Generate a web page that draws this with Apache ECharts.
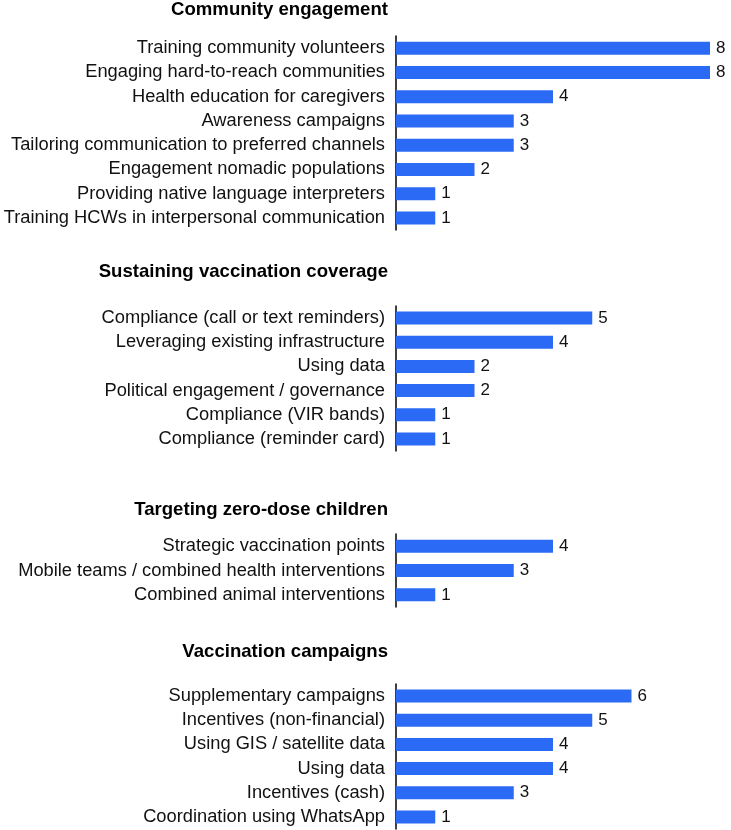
<!DOCTYPE html>
<html>
<head>
<meta charset="utf-8">
<title>Strategies by theme</title>
<script src="https://cdn.jsdelivr.net/npm/echarts@6/dist/echarts.min.js"></script>
<style>
  html, body { margin: 0; padding: 0; background: #fff; }
  #chart { width: 731px; height: 830px; }
</style>
</head>
<body>
<div id="chart"></div>
<script>
// group titles
const groupTitles = [
  'Community engagement',
  'Sustaining vaccination coverage',
  'Targeting zero-dose children',
  'Vaccination campaigns'
]

// categories and counts, one pair per group
const communityLabels = [
  'Training community volunteers',
  'Engaging hard-to-reach communities',
  'Health education for caregivers',
  'Awareness campaigns',
  'Tailoring communication to preferred channels',
  'Engagement nomadic populations',
  'Providing native language interpreters',
  'Training HCWs in interpersonal communication'
]
const communityValues = [8, 8, 4, 3, 3, 2, 1, 1]

const sustainingLabels = [
  'Compliance (call or text reminders)',
  'Leveraging existing infrastructure',
  'Using data',
  'Political engagement / governance',
  'Compliance (VIR bands)',
  'Compliance (reminder card)'
]
const sustainingValues = [5, 4, 2, 2, 1, 1]

const zeroDoseLabels = [
  'Strategic vaccination points',
  'Mobile teams / combined health interventions',
  'Combined animal interventions'
]
const zeroDoseValues = [4, 3, 1]

const campaignLabels = [
  'Supplementary campaigns',
  'Incentives (non-financial)',
  'Using GIS / satellite data',
  'Using data',
  'Incentives (cash)',
  'Coordination using WhatsApp'
]
const campaignValues = [6, 5, 4, 4, 3, 1]

const groups = [
  { labels: communityLabels, values: communityValues },
  { labels: sustainingLabels, values: sustainingValues },
  { labels: zeroDoseLabels, values: zeroDoseValues },
  { labels: campaignLabels, values: campaignValues }
]

// layout of each block (grid top / height, title top)
const gridTops = [36, 306, 534, 684]
const gridHeights = [194, 145, 73, 145]
const titleTops = [0, 262, 500, 642]

const font = '"Liberation Sans", Arial, Helvetica, sans-serif'
const barColor = '#2a6af4'

const chart = echarts.init(document.getElementById('chart'))

const option = {
  backgroundColor: '#ffffff',
  animation: false,
  title: groupTitles.map((t, i) => ({
    text: t,
    left: 388,
    top: titleTops[i],
    textAlign: 'right',
    padding: 0,
    textStyle: {
      fontFamily: font,
      fontSize: 18.6,
      fontWeight: 'bold',
      color: '#000'
    }
  })),
  grid: groups.map((g, i) => ({
    left: 396,
    width: 314,
    top: gridTops[i],
    height: gridHeights[i],
    containLabel: false
  })),
  xAxis: groups.map((g, i) => ({
    type: 'value',
    gridIndex: i,
    min: 0,
    max: 8,
    show: false
  })),
  yAxis: groups.map((g, i) => ({
    type: 'category',
    gridIndex: i,
    inverse: true,
    data: g.labels,
    axisLine: { show: true, lineStyle: { color: '#000', width: 1.5 } },
    axisTick: { show: false },
    splitLine: { show: false },
    axisLabel: {
      margin: 11,
      fontFamily: font,
      fontSize: 18.3,
      color: '#111'
    }
  })),
  series: groups.map((g, i) => ({
    type: 'bar',
    xAxisIndex: i,
    yAxisIndex: i,
    data: g.values,
    barWidth: 13,
    itemStyle: { color: barColor },
    label: {
      show: true,
      position: 'right',
      distance: 6,
      fontFamily: font,
      fontSize: 17,
      color: '#111'
    }
  }))
}

chart.setOption(option)
</script>
</body>
</html>
